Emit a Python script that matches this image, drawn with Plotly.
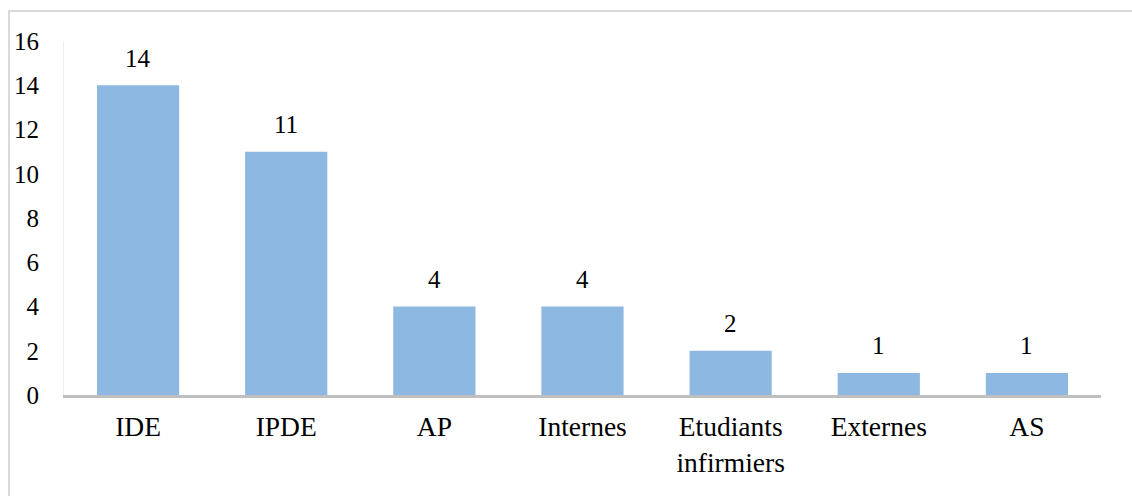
import plotly.graph_objects as go

categories = ["IDE", "IPDE", "AP", "Internes", "Etudiants<br>infirmiers", "Externes", "AS"]
values = [14, 11, 4, 4, 2, 1, 1]
y_ticks = [0, 2, 4, 6, 8, 10, 12, 14, 16]

FONT = "Liberation Serif, Times New Roman, serif"

fig = go.Figure()
fig.add_trace(go.Bar(
    x=categories, y=values,
    marker=dict(color="#8DB8E2", line=dict(width=0)),
    width=0.555,
    hoverinfo="skip",
))

for c, v in zip(categories, values):
    fig.add_annotation(x=c, y=v, text=str(v), showarrow=False, yshift=27,
                       font=dict(family=FONT, size=25, color="#000000"))

fig.update_layout(
    width=1132, height=496,
    margin=dict(l=64, r=31, t=41, b=101),
    paper_bgcolor="white", plot_bgcolor="white",
    showlegend=False,
    font=dict(family=FONT, size=25, color="#000000"),
    xaxis=dict(
        showgrid=False, showline=True, linecolor="#BFBFBF", linewidth=2.5,
        ticks="outside", ticklen=5, tickcolor="rgba(0,0,0,0)",
        tickfont=dict(family=FONT, size=27.5, color="#000000"),
        zeroline=False, automargin=False,
    ),
    yaxis=dict(
        range=[0, 16], tickvals=y_ticks, showgrid=False,
        showline=True, linecolor="#EEEEEE", linewidth=1,
        ticks="outside", ticklen=19, tickcolor="rgba(0,0,0,0)",
        tickfont=dict(family=FONT, size=25, color="#000000"),
        zeroline=False, automargin=False,
    ),
    shapes=[dict(type="rect", xref="paper", yref="paper",
                 x0=-0.053, x1=1.2, y0=-0.6, y1=1.085,
                 line=dict(color="#D9D9D9", width=2), fillcolor="rgba(0,0,0,0)",
                 layer="below")],
)

fig.write_html("out.html", config={"displayModeBar": False},
               post_script="document.body.style.margin='0';")
